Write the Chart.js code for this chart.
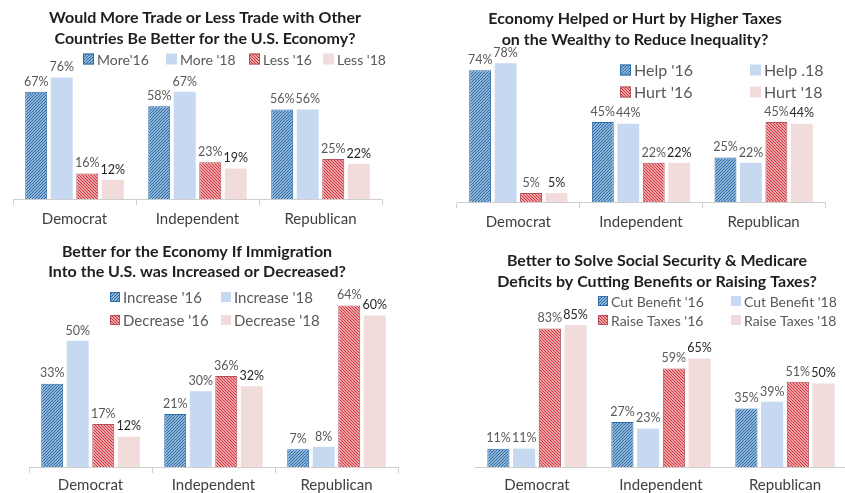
<!DOCTYPE html>
<html>
<head>
<meta charset="utf-8">
<script src="https://cdn.jsdelivr.net/npm/chart.js@4.4.1/dist/chart.umd.min.js"></script>
<style>
  body { margin:0; background:#fff; width:845px; height:493px; overflow:hidden; position:relative; }
  canvas { position:absolute; }
</style>
</head>
<body>
<canvas id="trade" width="422" height="240" style="left:0;top:0"></canvas>
<canvas id="tax" width="420" height="240" style="left:425px;top:0"></canvas>
<canvas id="imm" width="422" height="253" style="left:0;top:240px"></canvas>
<canvas id="ss" width="430" height="253" style="left:425px;top:240px"></canvas>
<script>
const parties = ["Democrat", "Independent", "Republican"];

// trade
const tradeSeries = ["More'16", "More '18", "Less '16", "Less '18"];
const tradeMore16 = [67, 58, 56];
const tradeMore18 = [76, 67, 56];
const tradeLess16 = [16, 23, 25];
const tradeLess18 = [12, 19, 22];

// taxes on the wealthy
const taxSeries = ["Help '16", "Help .18", "Hurt '16", "Hurt '18"];
const taxHelp16 = [74, 45, 25];
const taxHelp18 = [78, 44, 22];
const taxHurt16 = [5, 22, 45];
const taxHurt18 = [5, 22, 44];

// immigration
const immSeries = ["Increase '16", "Increase '18", "Decrease '16", "Decrease '18"];
const immInc16 = [33, 21, 7];
const immInc18 = [50, 30, 8];
const immDec16 = [17, 36, 64];
const immDec18 = [12, 32, 60];

// social security & medicare
const ssSeries = ["Cut Benefit '16", "Cut Benefit '18", "Raise Taxes '16", "Raise Taxes '18"];
const ssCut16 = [11, 27, 35];
const ssCut18 = [11, 23, 39];
const ssRaise16 = [83, 59, 51];
const ssRaise18 = [85, 65, 50];

const FONT = "Lato, 'Open Sans', sans-serif";

function hatch(line, bg, forward){
  const c = document.createElement("canvas");
  c.width = 3; c.height = 3;
  const g = c.getContext("2d");
  g.fillStyle = bg; g.fillRect(0, 0, 3, 3);
  g.strokeStyle = line; g.lineWidth = 1.3;
  g.beginPath();
  if(forward){
    g.moveTo(-1, 4); g.lineTo(4, -1);
    g.moveTo(-1, 1); g.lineTo(1, -1);
    g.moveTo(2, 4); g.lineTo(4, 2);
  } else {
    g.moveTo(-1, -1); g.lineTo(4, 4);
    g.moveTo(2, -1); g.lineTo(4, 1);
    g.moveTo(-1, 2); g.lineTo(1, 4);
  }
  g.stroke();
  return g.createPattern(c, "repeat");
}

const blueHatch = hatch("#2b6cab", "#e4eef8", true);
const redHatch = hatch("#d3343c", "#ffffff", false);
const fills = [blueHatch, "#c6d9f0", redHatch, "#f2dcdb"];
const borders = ["#2b6cab", "#c6d9f0", "#b4505a", "#f2dcdb"];
const borderW = [1, 0, 1, 0];
const labelColors = ["#595959", "#595959", "#595959", "#262626"];

// titles, legend and value labels
const decor = {
  id: "decor",
  afterDatasetsDraw(chart, args, o){
    const ctx = chart.ctx;
    ctx.save();
    ctx.textAlign = "center";
    ctx.textBaseline = "middle";
    ctx.fillStyle = "#1e1e1e";
    ctx.font = "bold 16px " + FONT;
    o.title.forEach((t, i) => ctx.fillText(t, o.titleX, o.titleY[i]));

    ctx.textAlign = "left";
    ctx.font = o.legendSize + "px " + FONT;
    o.legendPos.forEach((p, i) => {
      const s = o.legendBox;
      ctx.fillStyle = fills[i];
      ctx.fillRect(p[0], p[1] - s / 2, s, s);
      if(borderW[i]){
        ctx.strokeStyle = borders[i]; ctx.lineWidth = 1;
        ctx.strokeRect(p[0] + 0.5, p[1] - s / 2 + 0.5, s - 1, s - 1);
      }
      ctx.fillStyle = "#595959";
      ctx.fillText(chart.data.datasets[i].label, p[0] + s + 3, p[1] + 1);
    });

    ctx.textAlign = "center";
    ctx.textBaseline = "bottom";
    ctx.font = "12.5px " + FONT;
    chart.data.datasets.forEach((ds, i) => {
      chart.getDatasetMeta(i).data.forEach((bar, j) => {
        ctx.fillStyle = labelColors[i];
        ctx.fillText(ds.data[j] + "%", bar.x, bar.y - 4);
      });
    });
    ctx.restore();
  }
};

function makeChart(id, names, values, max, area, d){
  const cv = document.getElementById(id);
  return new Chart(cv, {
    type: "bar",
    data: {
      labels: parties,
      datasets: values.map((v, i) => ({
        label: names[i],
        data: v,
        backgroundColor: fills[i],
        borderColor: borders[i],
        borderWidth: borderW[i],
        categoryPercentage: 0.83,
        barPercentage: 0.86
      }))
    },
    options: {
      responsive: false,
      animation: false,
      events: [],
      layout: { padding: { left: area.left, right: cv.width - area.right, top: area.top, bottom: 0 } },
      plugins: { legend: { display: false }, tooltip: { enabled: false }, decor: d },
      scales: {
        y: { display: false, min: 0, max: max },
        x: {
          afterFit: (s) => { s.height = cv.height - area.bottom; },
          border: { color: "#cfcfcf" },
          grid: { drawOnChartArea: false, color: "#cfcfcf", tickLength: area.ticks ? 6 : 0 },
          ticks: { color: "#404040", padding: area.pad, font: { family: FONT, size: 15 } }
        }
      }
    },
    plugins: [decor]
  });
}

makeChart("trade", tradeSeries, [tradeMore16, tradeMore18, tradeLess16, tradeLess18], 100,
  { left: 13, right: 382, top: 39, bottom: 199, ticks: true, pad: 5 },
  { title: ["Would More Trade or Less Trade with Other", "Countries Be Better for the U.S. Economy?"],
    titleX: 205, titleY: [18, 39], legendSize: 14, legendBox: 11,
    legendPos: [[83, 59], [166, 59], [249, 59], [323, 59]] });

makeChart("tax", taxSeries, [taxHelp16, taxHelp18, taxHurt16, taxHurt18], 100,
  { left: 32, right: 400, top: 24, bottom: 202, ticks: true, pad: 5 },
  { title: ["Economy Helped or Hurt by Higher Taxes", "on the Wealthy to Reduce Inequality?"],
    titleX: 210, titleY: [19, 40], legendSize: 16, legendBox: 11,
    legendPos: [[195, 70], [325, 70], [195, 92], [325, 92]] });

makeChart("imm", immSeries, [immInc16, immInc18, immDec16, immDec18], 80,
  { left: 29, right: 398, top: 25, bottom: 227, ticks: true, pad: 3 },
  { title: ["Better for the Economy If Immigration", "Into the U.S. was Increased or Decreased?"],
    titleX: 197, titleY: [12, 32], legendSize: 15, legendBox: 10,
    legendPos: [[110, 57], [221, 57], [110, 80], [221, 80]] });

makeChart("ss", ssSeries, [ssCut16, ssCut18, ssRaise16, ssRaise18], 100,
  { left: 50, right: 422, top: 60, bottom: 227, ticks: false, pad: 9 },
  { title: ["Better to Solve Social Security & Medicare", "Deficits by Cutting Benefits or Raising Taxes?"],
    titleX: 232, titleY: [21, 42], legendSize: 14, legendBox: 10,
    legendPos: [[173, 61], [306, 61], [173, 80], [306, 80]] });
</script>
</body>
</html>
